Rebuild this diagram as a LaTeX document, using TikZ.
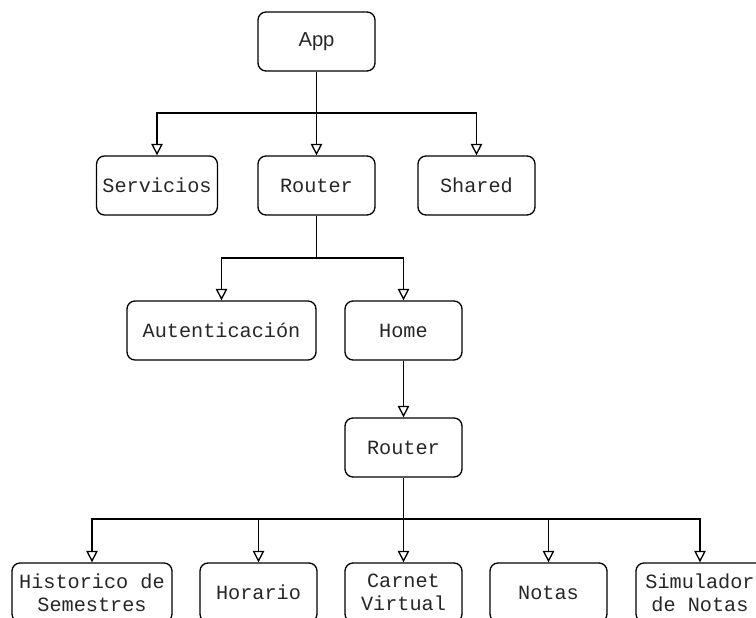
\documentclass[tikz,border=0pt]{standalone}
\usepackage{fontspec}
\setmonofont{Liberation Mono}
\setsansfont{Liberation Sans}
\usetikzlibrary{arrows.meta}

\tikzset{
  modulo/.style={draw, rounded corners=0.16cm, line width=0.75pt, minimum width=2.34cm,
    minimum height=1.18cm, align=center, text=black!85,
    font=\fontsize{11.5}{13.2}\selectfont\ttfamily},
  flecha/.style={-{Triangle[open,length=6.5pt,width=6.5pt]}, line width=0.75pt},
  linea/.style={line width=0.75pt}
}

\begin{document}
\begin{tikzpicture}
\clip (0,0) rectangle (15.12,-12.36);
\useasboundingbox (0,0) rectangle (15.12,-12.36);

\draw (6.33,-0.83)  node (app) [modulo, font=\fontsize{11.5}{13.2}\selectfont\sffamily] {App};

\draw (3.14,-3.71)  node (serv)   [modulo, minimum width=2.36cm] {Servicios};
\draw (6.33,-3.71)  node (router) [modulo] {Router};
\draw (9.53,-3.71)  node (shared) [modulo] {Shared};
\coordinate (b1) at (6.33,-2.26);
\draw[flecha] (app.south) -- (router.north);
\draw[flecha] (b1) -| (serv.north);
\draw[flecha] (b1) -| (shared.north);

\draw (4.43,-6.61)  node (auth) [modulo, minimum width=3.78cm] {Autenticación};
\draw (8.07,-6.61)  node (home) [modulo] {Home};
\coordinate (b2) at (6.33,-5.16);
\draw[linea] (router.south) -- (b2);
\draw[flecha] (b2) -| (auth.north);
\draw[flecha] (b2) -| (home.north);

\draw (8.07,-8.95)  node (router2) [modulo] {Router};
\draw[flecha] (home.south) -- (router2.north);

\draw (1.84,-11.85)  node (hist)  [modulo, minimum width=3.2cm] {Historico de\\Semestres};
\draw (5.17,-11.85)  node (hor)   [modulo] {Horario};
\draw (8.07,-11.85)  node (carn)  [modulo] {Carnet\\Virtual};
\draw (10.97,-11.85) node (notas) [modulo] {Notas};
\draw (14.00,-11.85) node (sim)   [modulo, minimum width=2.56cm] {Simulador\\de Notas};
\coordinate (b3) at (8.07,-10.38);
\draw[flecha] (router2.south) -- (carn.north);
\draw[flecha] (b3) -| (hist.north);
\draw[flecha] (b3) -| (hor.north);
\draw[flecha] (b3) -| (notas.north);
\draw[flecha] (b3) -| (sim.north);
\end{tikzpicture}
\end{document}
